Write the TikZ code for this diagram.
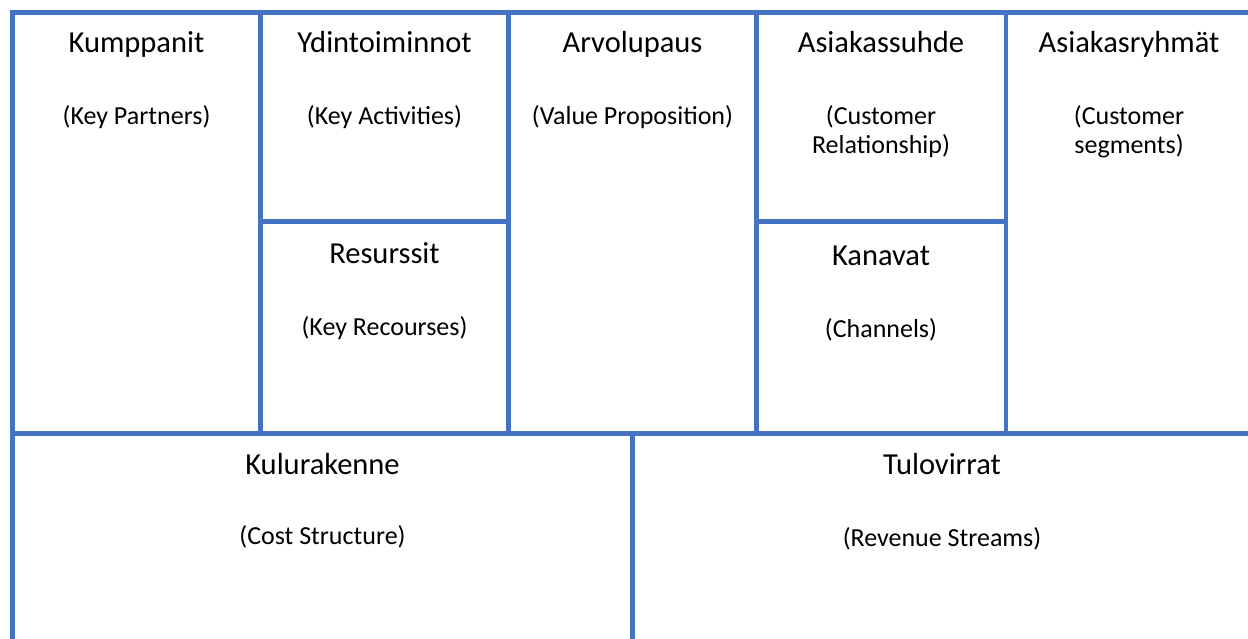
\documentclass[tikz,border=0pt]{standalone}
\usepackage{fontspec}
\setmainfont{Carlito}
\usetikzlibrary{calc}
\definecolor{kehys}{HTML}{4472C4}

\begin{document}
\begin{tikzpicture}
        [x=1pt,y=-1pt,
         viiva/.style={draw=kehys,line width=4.5pt},
         otsikko/.style={anchor=base,font=\fontsize{30.5}{36}\selectfont},
         selite/.style={anchor=base,align=center,font=\fontsize{26}{29}\selectfont}]
         \useasboundingbox (0,0) rectangle (1248,639);
         % kehys ja ruudukko
         \draw[viiva] (12.5,639) -- (12.5,12.5) -- (1248,12.5);
         \foreach \x in {260.5,508.5,756.5,1006}
           \draw[viiva] (\x,12.5) -- (\x,433.5);
         \draw[viiva] (12.5,433.5) -- (1248,433.5);
         \draw[viiva] (260.5,221.5) -- (508.5,221.5);
         \draw[viiva] (756.5,221.5) -- (1006,221.5);
         \draw[viiva] (632.5,433.5) -- (632.5,639);
         % ylarivi
         \node[otsikko] (kumppanit) at (136.5,52.5) {Kumppanit};
         \node[selite] (kumppanit-en) at (136.5,125) {(Key Partners)};
         \node[otsikko] (ydin) at (384.5,52.5) {Ydintoiminnot};
         \node[selite] (ydin-en) at (384.5,125) {(Key Activities)};
         \node[otsikko] (arvo) at (632.5,52.5) {Arvolupaus};
         \node[selite] (arvo-en) at (632.5,125) {(Value Proposition)};
         \node[otsikko] (suhde) at (881,52.5) {Asiakassuhde};
         \node[selite] (suhde-en) at (881,154) {(Customer\\Relationship)};
         \node[otsikko] (ryhmat) at (1129,52.5) {Asiakasryhmät};
         \node[selite] (ryhmat-en) at (1129,154) {(Customer\\segments)};
         % alemmat ruudut
         \node[otsikko] (resurssit) at (384.5,263) {Resurssit};
         \node[selite] (resurssit-en) at (384.5,335) {(Key Recourses)};
         \node[otsikko] (kanavat) at (881,265.5) {Kanavat};
         \node[selite] (kanavat-en) at (881,337) {(Channels)};
         % alarivi
         \node[otsikko] (kulut) at (322.5,474.5) {Kulurakenne};
         \node[selite] (kulut-en) at (322.5,544) {(Cost Structure)};
         \node[otsikko] (tulot) at (942,474.5) {Tulovirrat};
         \node[selite] (tulot-en) at (942,546) {(Revenue Streams)};
\end{tikzpicture}
\end{document}
